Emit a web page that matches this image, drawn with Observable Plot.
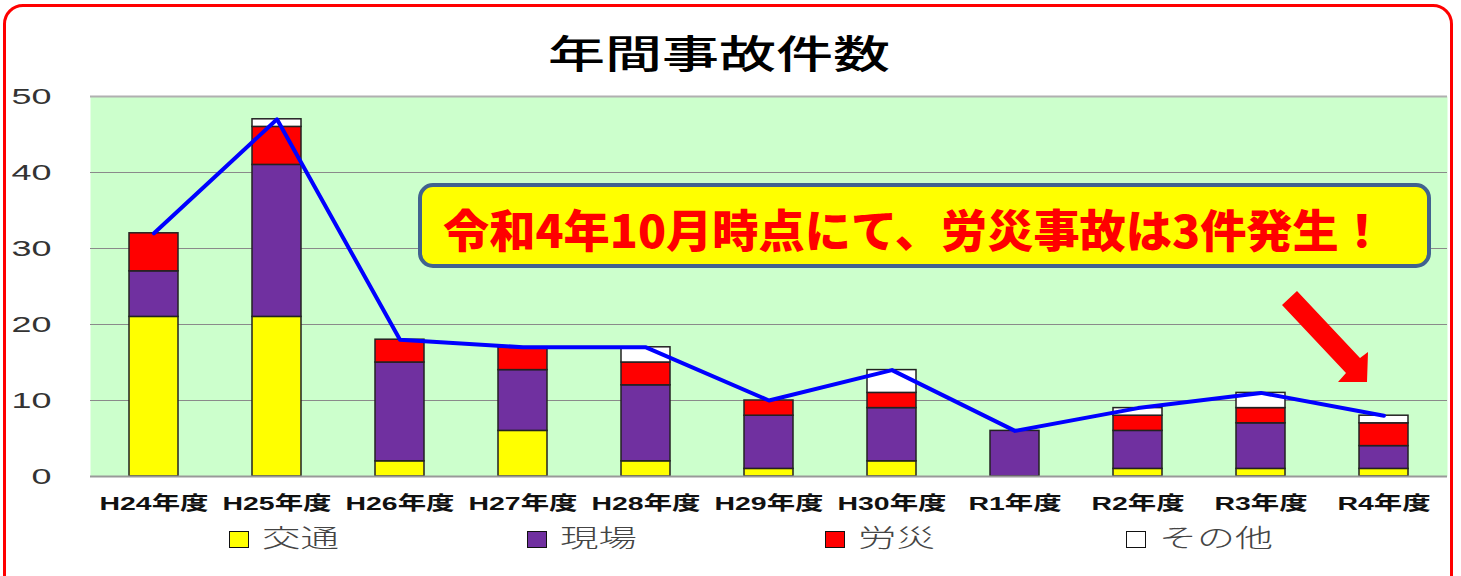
<!DOCTYPE html>
<html><head><meta charset="utf-8">
<script src="https://cdn.jsdelivr.net/npm/d3@7"></script>
<script src="https://cdn.jsdelivr.net/npm/@observablehq/plot@0.6"></script>
<style>
body{margin:0;background:#fff;overflow:hidden;font-family:"Noto Sans CJK JP",sans-serif;}
#wrap{position:relative;width:1461px;height:576px;overflow:hidden;background:#fff;}
#border{position:absolute;left:3px;top:4px;width:1444px;height:640px;border:3px solid #ff0000;border-radius:20px;}
.st{position:absolute;white-space:nowrap;line-height:1;transform-origin:0 50%;}
#chart{position:absolute;left:0;top:85px;}
#note{position:absolute;left:418px;top:183px;width:1005px;height:77px;background:#ffff00;border:4px solid #41628f;border-radius:15px;}
.sw{position:absolute;width:18px;height:15px;border:1.5px solid #111;}
#arrow{position:absolute;left:0;top:0;}
</style></head>
<body>
<div id="wrap">
  <div id="border"></div>
  <div id="title" class="st" data-w="342" style="left:548px;top:32px;font-size:39px;font-weight:500;color:#000;">年間事故件数</div>
  <div id="chart"></div>
  <div id="note"></div>
  <div id="notetext" class="st" data-w="942" style="left:443px;top:206px;font-size:45px;font-weight:900;color:#ff0000;">令和4年10月時点にて、労災事故は3件発生！</div>
  <svg id="arrow" width="1461" height="576"></svg>
  <div id="legend"></div>
</div>
<script>
const years = ["H24年度","H25年度","H26年度","H27年度","H28年度","H29年度","H30年度","R1年度","R2年度","R3年度","R4年度"];
const types = ["交通","現場","労災","その他"];
const traffic = [21,21,2,6,2,1,2,0,1,1,1];
const site    = [6,20,13,8,10,7,7,6,5,6,3];
const labor   = [5,5,3,3,3,2,2,0,2,2,3];
const other   = [0,1,0,0,2,0,3,0,1,2,1];
const colors = ["#ffff00","#7030a0","#ff0000","#ffffff"];
const yTicks = [0,10,20,30,40,50];
const title = "年間事故件数";
const note = "令和4年10月時点にて、労災事故は3件発生！";

const series = [traffic, site, labor, other];
const rows = [];
series.forEach((vals, k) => vals.forEach((v, i) => rows.push({year: years[i], type: types[k], value: v})));
const totals = years.map((y, i) => ({year: y, total: series.reduce((s, a) => s + a[i], 0)}));

const chart = Plot.plot({
  width: 1461, height: 440,
  marginTop: 11, marginBottom: 49, marginLeft: 90, marginRight: 14,
  style: {background: "transparent", fontFamily: "'Liberation Sans','Noto Sans CJK JP',sans-serif"},
  x: {domain: years, paddingInner: 0.6, paddingOuter: 0.3, label: null},
  y: {domain: [0, 50], label: null},
  color: {domain: types, range: colors},
  marks: [
    Plot.frame({fill: "#ccffcc", stroke: null}),
    Plot.gridY(yTicks, {stroke: "#8a8a8a", strokeOpacity: 1, strokeWidth: 1}),
    Plot.ruleY([50], {stroke: "#b0b0b0", strokeWidth: 2}),
    Plot.axisX({tickSize: 0, tickPadding: 20, fontSize: 19, fontWeight: "bold", fill: "#111", label: null}),
    Plot.axisY(yTicks, {tickSize: 0, tickPadding: 39, fontSize: 22, fill: "#333", label: null}),
    Plot.barY(rows, {x: "year", y: "value", fill: "type", stroke: "#222", strokeWidth: 1.5}),
    Plot.ruleY([0], {stroke: "#999", strokeWidth: 2}),
    Plot.lineY(totals, {x: "year", y: "total", stroke: "#0000ff", strokeWidth: 4})
  ]
});
document.getElementById("chart").appendChild(chart);

// stretch svg tick labels horizontally around their anchor
function stretch(sel, target, sample) {
  const texts = d3.select(chart).selectAll(sel).nodes();
  if (!texts.length) return;
  const ref = texts.find(t => t.textContent === sample) || texts[0];
  const s = target / ref.getBBox().width;
  texts.forEach(t => {
    const b = t.getBBox();
    const anchor = getComputedStyle(t).textAnchor;
    const cx = anchor === "end" ? b.x + b.width : anchor === "middle" ? b.x + b.width / 2 : b.x;
    const tr = t.getAttribute("transform") || "";
    t.setAttribute("transform", `${tr} translate(${cx},0) scale(${s},1) translate(${-cx},0)`);
  });
}
stretch('g[aria-label="x-axis tick label"] text', 109, "H24年度");
stretch('g[aria-label="y-axis tick label"] text', 40, "50");

// legend
const legend = document.getElementById("legend");
const lx = [229, 527, 825, 1126];
types.forEach((t, i) => {
  const sw = document.createElement("div");
  sw.className = "sw";
  sw.style.left = lx[i] + "px"; sw.style.top = "531px"; sw.style.background = colors[i];
  legend.appendChild(sw);
  const tx = document.createElement("div");
  tx.className = "st";
  tx.textContent = t;
  tx.dataset.w = [77, 77, 77, 114][i];
  tx.style.cssText += `left:${lx[i] + 33}px;top:524px;font-size:25px;font-weight:300;color:#444;`;
  legend.appendChild(tx);
});

// arrow annotation
d3.select("#arrow").append("polygon")
  .attr("points", "1297,291 1360,358 1368,352 1367,382 1338,382 1346,373 1282,305")
  .attr("fill", "#ff0000");

// scale html text to target widths
document.querySelectorAll(".st[data-w]").forEach(el => {
  const w = el.getBoundingClientRect().width;
  el.style.transform = `scaleX(${(+el.dataset.w) / w})`;
});
</script>
</body></html>
